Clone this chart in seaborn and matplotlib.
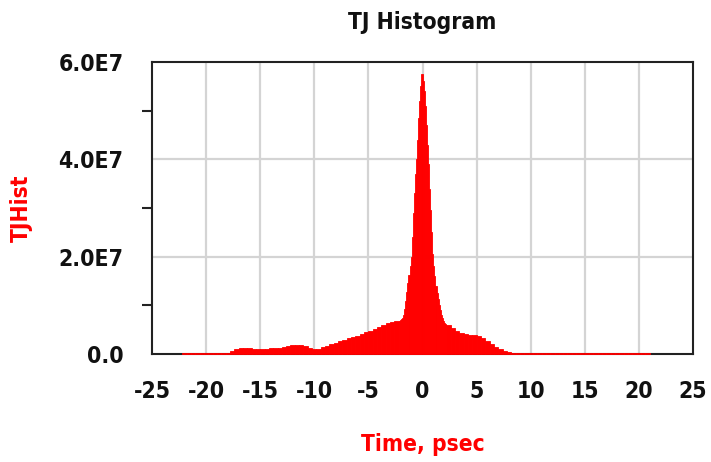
import numpy as np
import pandas as pd
import matplotlib
matplotlib.use("Agg")
import matplotlib.pyplot as plt
import seaborn as sns

# ---- data (bin heights in units of 1e7) ----
left_tail_vals = [0.03, 0.03, 0.03, 0.03, 0.03, 0.03, 0.03, 0.03, 0.03, 0.03, 0.03, 0.06,
                  0.11, 0.13, 0.13, 0.12, 0.10, 0.10, 0.11, 0.11, 0.12, 0.12, 0.12, 0.14,
                  0.17, 0.18, 0.18, 0.18, 0.16, 0.13, 0.11, 0.11, 0.14, 0.17, 0.20, 0.23,
                  0.26, 0.29, 0.32, 0.35, 0.38, 0.41, 0.45, 0.48, 0.52, 0.56, 0.59, 0.63,
                  0.65, 0.67]
center_vals = [0.68, 0.70, 0.72, 0.75, 0.80, 0.92, 1.08, 1.28, 1.45, 1.62, 1.80, 2.00,
               2.40, 2.90, 3.30, 3.70, 4.00, 4.40, 4.85, 5.20, 5.50, 5.75, 5.60, 5.40,
               5.10, 4.70, 4.30, 3.90, 3.40, 2.95, 2.50, 2.05, 1.80, 1.60, 1.40, 1.25,
               1.12, 1.00, 0.90, 0.80, 0.73, 0.68, 0.64, 0.62]
right_tail_vals = [0.60, 0.54, 0.48, 0.44, 0.42, 0.40, 0.39, 0.36, 0.32, 0.26, 0.21, 0.15,
                   0.10, 0.07, 0.04, 0.03, 0.02] + [0.03] * 30

x_ticks = [-25, -20, -15, -10, -5, 0, 5, 10, 15, 20, 25]
x_tick_labels = ["-25", "-20", "-15", "-10", "-5", "0", "5", "10", "15", "20", "25"]
y_ticks = [0, 2e7, 4e7, 6e7]
y_tick_labels = ["0.0", "2.0E7", "4.0E7", "6.0E7"]
y_minor = [1e7, 3e7, 5e7]

# bin layout
left_edges = np.round(np.arange(-22.2, -2.2 + 1e-9, 0.4), 3)
center_edges = np.round(np.arange(-2.2, 2.2 + 1e-9, 0.1), 3)
right_edges = np.round(np.arange(2.2, 21.0 + 1e-9, 0.4), 3)
edges = np.unique(np.concatenate([left_edges, center_edges, right_edges]))
counts = np.array(left_tail_vals + center_vals + right_tail_vals) * 1e7
centers = (edges[:-1] + edges[1:]) / 2
df = pd.DataFrame({"time": centers, "hist": counts})

sns.set_style("white")
plt.rcParams["font.family"] = ["DejaVu Sans", "Liberation Sans"]
plt.rcParams["font.stretch"] = "condensed"
plt.rcParams["axes.unicode_minus"] = False

fig = plt.figure(figsize=(7.11, 4.62), dpi=100)
ax = fig.add_axes([152 / 711, 108 / 462, (693 - 152) / 711, (354 - 62) / 462])

sns.histplot(data=df, x="time", weights="hist", bins=[float(e) for e in edges],
             stat="count", element="bars", color="#ff0000", edgecolor="#ff0000",
             linewidth=0.6, alpha=1.0, ax=ax, zorder=5)
for p in ax.patches:
    p.set_clip_on(False)

ax.set_xlim(-25, 25)
ax.set_ylim(0, 6e7)
ax.set_xticks(x_ticks)
ax.set_xticklabels(x_tick_labels)
ax.set_yticks(y_ticks)
ax.set_yticklabels(y_tick_labels)
ax.set_yticks(y_minor, minor=True)

ax.grid(False)
for v in x_ticks[1:-1]:
    ax.axvline(v, color="#d4d4d4", lw=1.6, zorder=1)
for v in y_ticks[1:-1]:
    ax.axhline(v, color="#d4d4d4", lw=1.6, zorder=1)

for s in ax.spines.values():
    s.set_color("#222222")
    s.set_linewidth(1.5)
    s.set_zorder(3)

ax.tick_params(axis="x", which="major", direction="out", length=13.5, width=1.5,
               color="#222222", labelsize=16.5, pad=5)
ax.tick_params(axis="y", which="major", direction="out", length=13.5, width=1.5,
               color="#222222", labelsize=16.5, pad=7)
ax.tick_params(axis="y", which="minor", direction="out", length=7, width=1.5,
               color="#222222", left=True)
for lab in ax.get_xticklabels() + ax.get_yticklabels():
    lab.set_fontweight("bold")
    lab.set_color("#111111")

ax.set_title("TJ Histogram", fontsize=16.3, fontweight="bold", color="#111111", pad=24)
ax.set_xlabel("Time, psec", fontsize=16.3, fontweight="bold", color="#ff0000", labelpad=22)
ax.set_ylabel("TJHist", fontsize=16.3, fontweight="bold", color="#ff0000")
ax.yaxis.set_label_coords((33 - 152) / 541, 0.5)

fig.savefig("out.png", dpi=100)
